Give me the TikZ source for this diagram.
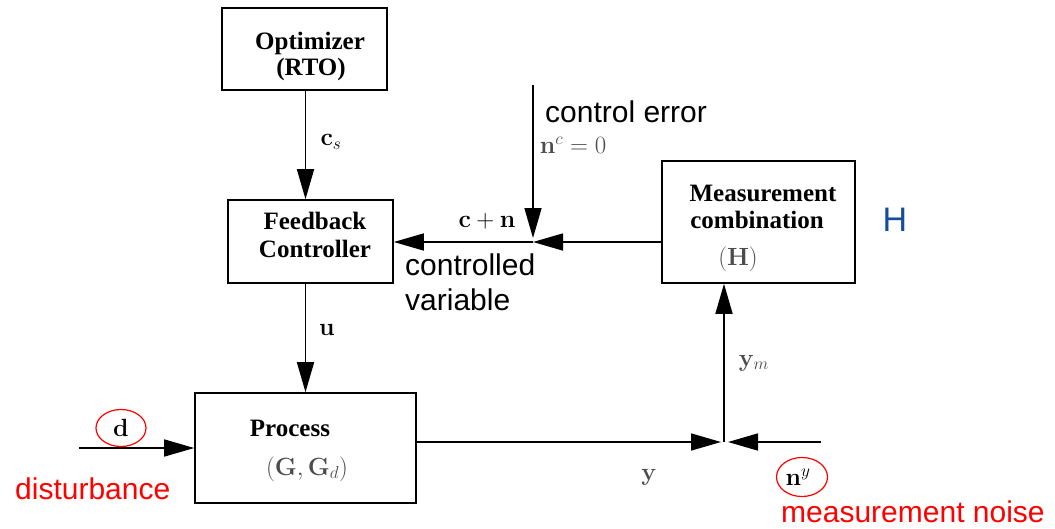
\documentclass[tikz,border=0pt]{standalone}
\usepackage[no-math]{fontspec}
\setmainfont{Liberation Serif}
\newfontfamily\arialfont{Liberation Sans}
\usetikzlibrary{arrows.meta,shapes.geometric}
\definecolor{hblue}{RGB}{22,76,155}
\definecolor{tagred}{RGB}{255,0,0}
\begin{document}
\begin{tikzpicture}[x=1pt,y=-1pt,
  block/.style={draw, line width=1.6pt, inner sep=0pt},
  title/.style={font=\fontsize{25}{28}\selectfont\bfseries, inner sep=0pt},
  mlabel/.style={font=\fontsize{25}{28}\selectfont, inner sep=0pt},
  soft/.style={text=black!70},
  note/.style={font=\arialfont\fontsize{30}{32}\selectfont, inner sep=0pt},
  sig/.style={draw, line width=1.6pt, -{Triangle[length=30pt,width=17pt]}},
  tag/.style={ellipse, draw=tagred, line width=1.2pt, inner sep=0pt,
              minimum width=50pt, minimum height=37pt, font=\fontsize{25}{28}\selectfont}]
\fill[white] (0,0) rectangle (1055,528);

% blocks
\node[block, minimum width=165pt, minimum height=82pt]  (opt)  at (304.5,49)  {};
\node[block, minimum width=165pt, minimum height=83pt]  (fb)   at (310.5,241.5) {};
\node[block, minimum width=221pt, minimum height=110pt] (proc) at (305.5,448) {};
\node[block, minimum width=193pt, minimum height=122pt] (meas) at (758.5,222) {};

% block titles
\node[title] (optA) at (310,43) {Optimizer};
\node[title] (optB) at (311,69) {(RTO)};
\node[title] (fbA)  at (315,221) {Feedback};
\node[title] (fbB)  at (315,249) {Controller};
\node[title] (procA) at (290,428) {Process};
\node[mlabel, soft] (procB) at (307,469) {$(\mathbf{G},\mathbf{G}_d)$};
\node[title] (measA) at (763,193) {Measurement};
\node[title] (measB) at (757,220) {combination};
\node[mlabel, soft] (measC) at (738,259) {$(\mathbf{H})$};

% junction points
\coordinate (j)    at (533,242);
\coordinate (ce)   at (533,85);
\coordinate (din)  at (79,448);
\coordinate (s)    at (724,442);
\coordinate (nyin) at (821,442);

% signals
\draw[sig] (opt.south -| proc.north) -- (fb.north -| proc.north);
\draw[sig] (fb.south -| proc.north) -- (proc.north);
\draw[sig, shorten >=4pt] (ce) -- (j);
\draw[sig] (meas.west |- j) -- (j);
\draw[sig] (j) -- (fb.east |- j);
\draw[sig] (din) -- (proc.west);
\draw[sig, shorten >=3pt] (proc.east |- s) -- (s);
\draw[sig, shorten >=4pt] (nyin) -- (s);
\draw[sig] (s) -- (s |- meas.south);

% signal labels
\node[mlabel] (cs) at (331,142) {$\mathbf{c}_s$};
\node[mlabel] (u)  at (327,330) {$\mathbf{u}$};
\node[mlabel] (cn) at (487,221) {$\mathbf{c}+\mathbf{n}$};
\node[mlabel, soft] (nc) at (573,145) {$\mathbf{n}^c = 0$};
\node[mlabel, soft] (ym) at (754,363) {$\mathbf{y}_m$};
\node[mlabel, soft] (y)  at (649,477) {$\mathbf{y}$};
\node[tag] (d)  at (121,428) {$\mathbf{d}$};
\node[tag, minimum width=51pt, minimum height=39pt] (ny) at (802,477) {\hspace*{-8pt}$\mathbf{n}^y$};

% annotations
\node[note, anchor=west] (cerr) at (545,112) {control error};
\node[note, anchor=west] (cv1) at (405,265) {controlled};
\node[note, anchor=west] (cv2) at (405,300) {variable};
\node[note, text=hblue, font=\arialfont\fontsize{34}{36}\selectfont] (hl) at (895,220) {H};
\node[note, text=tagred, anchor=west] (dist) at (15,489) {disturbance};
\node[note, text=tagred, anchor=west] (mnoise) at (781,512) {measurement noise};
\end{tikzpicture}
\end{document}
